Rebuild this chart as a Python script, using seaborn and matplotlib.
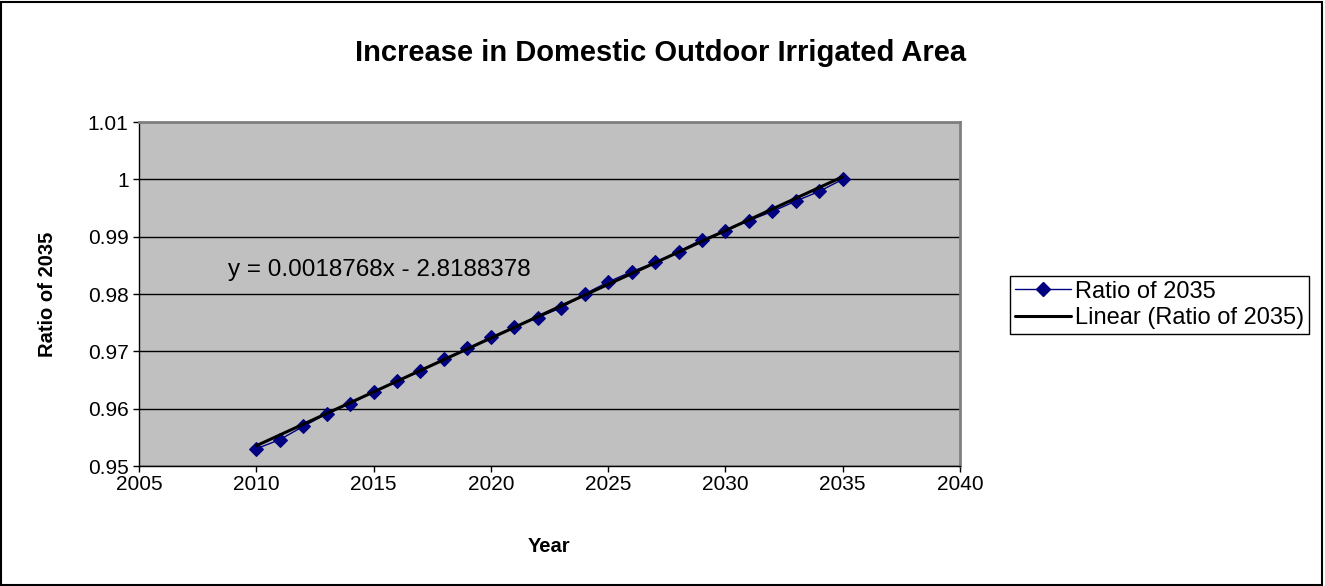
import matplotlib
matplotlib.use("Agg")
import matplotlib.pyplot as plt
import seaborn as sns
import pandas as pd
from matplotlib.patches import Rectangle
from matplotlib.lines import Line2D

# Ratio of irrigated area relative to the 2035 value
years = list(range(2010, 2036))
ratio = [0.9530, 0.9546, 0.9569, 0.9591, 0.9609, 0.9629, 0.9648, 0.9666,
         0.9687, 0.9705, 0.9725, 0.9742, 0.9759, 0.9776, 0.9800, 0.9821,
         0.9839, 0.9855, 0.9874, 0.9895, 0.9910, 0.9928, 0.9944, 0.9962,
         0.9979, 1.0000]

# Linear trendline coefficients
slope = 0.0018768
intercept = -2.8188378

x_ticks = [2005, 2010, 2015, 2020, 2025, 2030, 2035, 2040]
y_ticks = [0.95, 0.96, 0.97, 0.98, 0.99, 1.00, 1.01]
y_tick_labels = ["0.95", "0.96", "0.97", "0.98", "0.99", "1", "1.01"]

series_name = "Ratio of 2035"
trend_name = "Linear (Ratio of 2035)"

sns.set_theme(style="white", rc={
    "text.color": "black",
    "axes.labelcolor": "black",
    "xtick.color": "black",
    "ytick.color": "black",
})
plt.rcParams['font.family'] = ['Liberation Sans', 'DejaVu Sans']

fig = plt.figure(figsize=(13.25, 5.86), dpi=100)
ax = fig.add_axes([139 / 1325, 1 - 466 / 586, (960 - 139) / 1325, (466 - 122) / 586])
ax.set_facecolor('#C0C0C0')

df = pd.DataFrame({'Year': years, 'Ratio': ratio})
trend_df = pd.DataFrame({'Year': years,
                         'Fit': [slope * x + intercept for x in years]})

navy = '#000080'
sns.lineplot(data=df, x='Year', y='Ratio', ax=ax, color=navy, linewidth=1,
             marker='D', markersize=7.5, markeredgecolor=navy,
             markerfacecolor=navy, zorder=3)
sns.lineplot(data=trend_df, x='Year', y='Fit', ax=ax, color='black',
             linewidth=2.2, zorder=4)

ax.set_xlim(x_ticks[0], x_ticks[-1])
ax.set_ylim(y_ticks[0], y_ticks[-1])
ax.set_xticks(x_ticks)
ax.set_xticklabels([str(t) for t in x_ticks])
ax.set_yticks(y_ticks)
ax.set_yticklabels(y_tick_labels)

ax.yaxis.grid(True, color='black', linewidth=1)
ax.xaxis.grid(False)
ax.set_axisbelow(True)

for side in ['top', 'right']:
    ax.spines[side].set_color('#808080')
    ax.spines[side].set_linewidth(2)
for side in ['left', 'bottom']:
    ax.spines[side].set_color('black')
    ax.spines[side].set_linewidth(1)

ax.tick_params(axis='both', which='major', direction='out', length=4.5,
               width=1, color='black', labelsize=15, labelcolor='black',
               bottom=True, left=True)
ax.tick_params(axis='x', pad=2)
ax.tick_params(axis='y', pad=3)

ax.set_xlabel('Year', fontsize=14.5, fontweight='bold', labelpad=31)
ax.set_ylabel(series_name, fontsize=14.5, fontweight='bold', labelpad=22)

fig.text(661 / 1325, 1 - 53 / 586, 'Increase in Domestic Outdoor Irrigated Area',
         ha='center', va='center', fontsize=21, fontweight='bold')

eq_label = f"y = {slope:.7f}x - {abs(intercept):.7f}"
ax.text(2008.8, 0.9841, eq_label, fontsize=17.5, ha='left', va='center',
        color='black')

handles = [
    Line2D([], [], color=navy, linewidth=1, marker='D', markersize=7,
           markerfacecolor=navy, markeredgecolor=navy),
    Line2D([], [], color='black', linewidth=2.2),
]
leg = fig.legend(handles, [series_name, trend_name], loc='upper left',
                 bbox_to_anchor=(1010 / 1325, 1 - 276 / 586), borderaxespad=0,
                 fontsize=17, frameon=True, fancybox=False, framealpha=1,
                 edgecolor='black', handlelength=2.4, handletextpad=0.15,
                 borderpad=0.2, labelspacing=0.2)
leg.get_frame().set_linewidth(1)

fig.patches.append(Rectangle((0.001, 0.002), 0.997, 0.995, transform=fig.transFigure,
                             fill=False, edgecolor='black', linewidth=1.5))

fig.savefig('out.png', dpi=100)
